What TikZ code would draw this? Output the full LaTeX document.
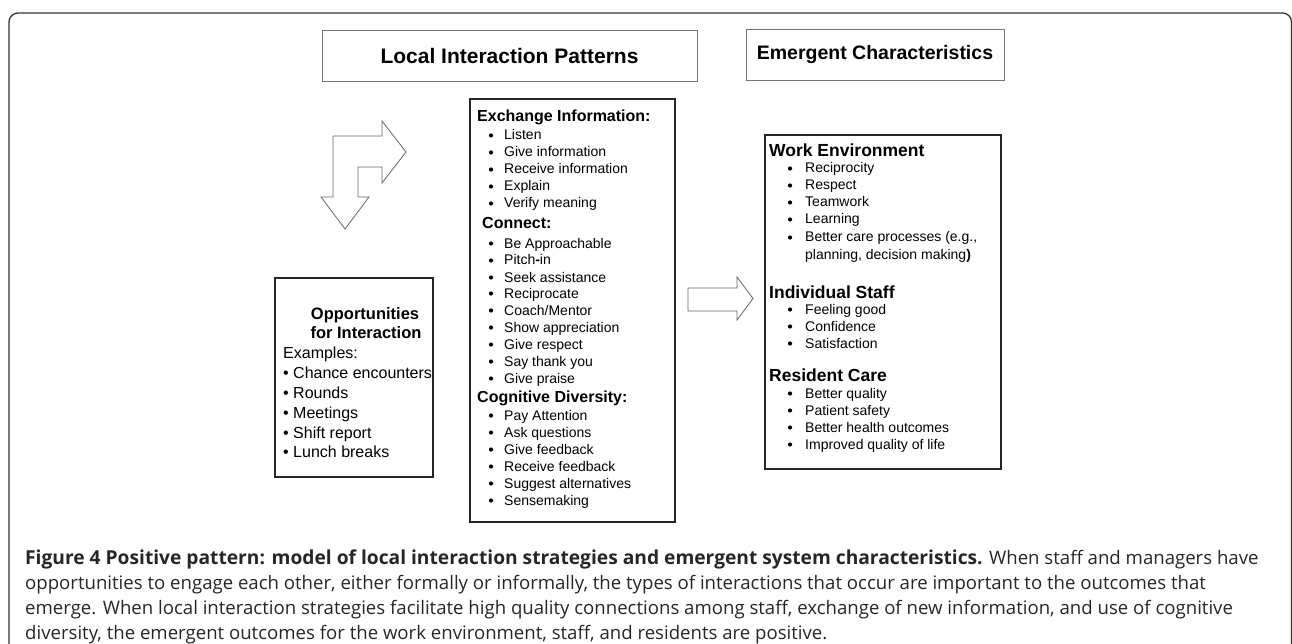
\documentclass[tikz,border=0pt]{standalone}
\usepackage{fontspec}
\setmainfont{Liberation Sans}
\newfontfamily\capfont{Open Sans}
\tikzset{
  hdrbox/.style={draw=black!55, line width=0.9pt, inner sep=0pt, font=\bfseries\fontsize{21}{24}\selectfont},
  listbox/.style={draw=black!85, line width=1.8pt, inner sep=0pt},
  blockarrow/.style={draw=black!60, line width=0.8pt, line join=miter},
  subhead/.style={anchor=base west, inner sep=0pt, font=\bfseries\fontsize{16}{18}\selectfont},
  bighead/.style={subhead, font=\bfseries\fontsize{17.5}{20}\selectfont},
  entry/.style={anchor=base west, inner sep=0pt, font=\fontsize{14}{16}\selectfont},
  bigentry/.style={anchor=base west, inner sep=0pt, font=\fontsize{16}{19}\selectfont},
  capline/.style={anchor=base west, inner sep=0pt, font=\capfont\fontsize{18.6}{25}\selectfont, text=black!85},
}

\begin{document}
\begin{tikzpicture}[x=1pt,y=-1pt]
\useasboundingbox (0,0) rectangle (1292,644);
\draw[black!80, line width=1.3pt, rounded corners=9pt] (9,660) -- (9,13) -- (1291.5,13) -- (1291.5,660);
\node[hdrbox, minimum width=375, minimum height=51] (local) at (509.5,55.5) {Local Interaction Patterns};
\node[hdrbox, minimum width=258, minimum height=51, font=\bfseries\fontsize{19.5}{22}\selectfont] (emerg) at (875,55) {Emergent Characteristics};
\node[listbox, minimum width=158, minimum height=199] (opps) at (354,377.5) {};
\node[listbox, minimum width=205, minimum height=423] (strat) at (572.5,310.5) {};
\node[listbox, minimum width=236, minimum height=334] (outc) at (883,302) {};
\draw[blockarrow] (333,136) -- (382,136) -- (382,121) -- (406,152) -- (382,183) -- (382,167) -- (358,167) -- (358,197) -- (369,197) -- (345,229) -- (321,197) -- (333,197) -- cycle;
\draw[blockarrow] (688,288) -- (737,288) -- (737,277) -- (753,298.5) -- (737,320) -- (737,311) -- (688,311) -- cycle;

\node[subhead, anchor=base, font=\bfseries\fontsize{16.5}{19}\selectfont] (opt1) at (365,319) {Opportunities};
\node[subhead, anchor=base, font=\bfseries\fontsize{16.5}{19}\selectfont] (opt2) at (366,338) {for Interaction};
\node[bigentry] (exam) at (283,358) {Examples:};
\foreach \t/\y [count=\i] in {Chance encounters/378, Rounds/398, Meetings/418, Shift report/438, Lunch breaks/457} { \node[bigentry] (opp\i) at (283,\y) {\textbullet\ \t}; }

\node[subhead] (xh) at (477,122) {Exchange Information:};
\foreach \t/\y [count=\i] in {Listen/140, Give information/157, Receive information/174, Explain/191, Verify meaning/208} { \fill (491,\y-4.5) circle[radius=2.1]; \node[entry] (xi\i) at (504,\y) {\t}; }
\node[subhead] (ch) at (482,229) {Connect:};
\foreach \t/\y [count=\i] in {Be Approachable/248, Pitch\textbf{-}in/265, Seek assistance/282, Reciprocate/298, {Coach/Mentor}/315, Show appreciation/332, Give respect/349, Say thank you/366, Give praise/383} { \fill (491,\y-4.5) circle[radius=2.1]; \node[entry] (ci\i) at (504,\y) {\t}; }
\node[subhead] (dh) at (477,402) {Cognitive Diversity:};
\foreach \t/\y [count=\i] in {Pay Attention/420, Ask questions/437, Give feedback/454, Receive feedback/471, Suggest alternatives/488, Sensemaking/505} { \fill (491,\y-4.5) circle[radius=2.1]; \node[entry] (di\i) at (504,\y) {\t}; }

\node[bighead] (wh) at (769,156.5) {Work Environment};
\foreach \t/\y [count=\i] in {Reciprocity/173, Respect/190, Teamwork/207, Learning/224, {Better care processes (e.g.,}/242} { \fill (790,\y-4.5) circle[radius=2.1]; \node[entry] (wi\i) at (805,\y) {\t}; }
\node[entry] (wi6) at (805,259) {planning, decision making\textbf{)}};
\node[bighead] (sh) at (769,298) {Individual Staff};
\foreach \t/\y [count=\i] in {Feeling good/314, Confidence/331, Satisfaction/348} { \fill (790,\y-4.5) circle[radius=2.1]; \node[entry] (si\i) at (805,\y) {\t}; }
\node[bighead] (rh) at (769,381) {Resident Care};
\foreach \t/\y [count=\i] in {Better quality/398, Patient safety/415, Better health outcomes/432, Improved quality of life/449} { \fill (790,\y-4.5) circle[radius=2.1]; \node[entry] (ri\i) at (805,\y) {\t}; }

\node[capline] (cap1) at (25,564) {\textbf{\fontsize{19.2}{25}\selectfont Figure 4 Positive pattern: model of local interaction strategies and emergent system characteristics.} When staff and managers have};
\node[capline] (cap2) at (25,589) {opportunities to engage each other, either formally or informally, the types of interactions that occur are important to the outcomes that};
\node[capline] (cap3) at (25,614) {emerge. When local interaction strategies facilitate high quality connections among staff, exchange of new information, and use of cognitive};
\node[capline] (cap4) at (25,639) {diversity, the emergent outcomes for the work environment, staff, and residents are positive.};
\end{tikzpicture}
\end{document}
